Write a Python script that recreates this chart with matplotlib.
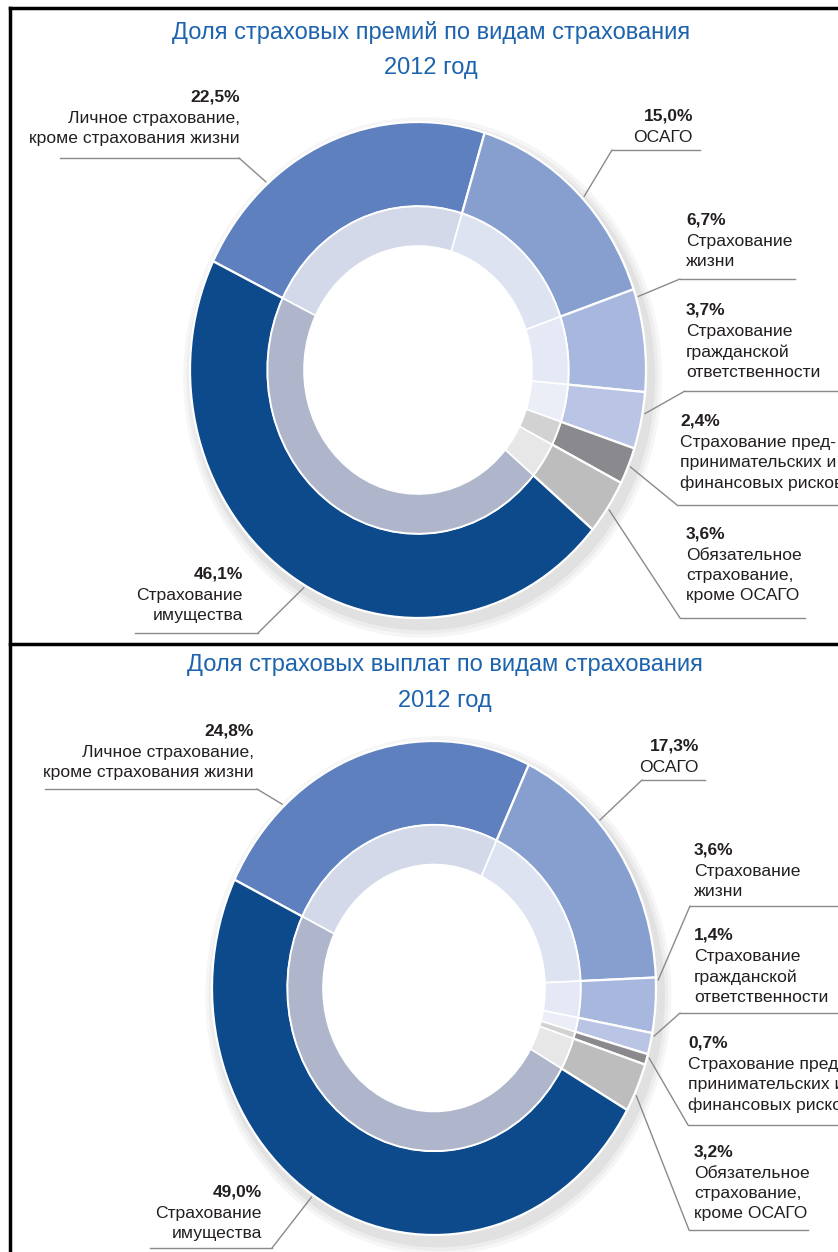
import numpy as np
import matplotlib.pyplot as plt
from matplotlib.lines import Line2D

W, H = 838, 1252

categories = ["Личное страхование,\nкроме страхования жизни",
              "ОСАГО",
              "Страхование\nжизни",
              "Страхование\nгражданской\nответственности",
              "Страхование пред-\nпринимательских и\nфинансовых рисков",
              "Обязательное\nстрахование,\nкроме ОСАГО",
              "Страхование\nимущества"]

premiums_2012 = [22.5, 15.0, 6.7, 3.7, 2.4, 3.6, 46.1]
payments_2012 = [24.8, 17.3, 3.6, 1.4, 0.7, 3.2, 49.0]

titles = [["Доля страховых премий по видам страхования", "2012 год"],
          ["Доля страховых выплат по видам страхования", "2012 год"]]

outer_colors = ['#5e80bf', '#879fcf', '#a8b7dd', '#bac5e5', '#8a8a8e', '#bdbdbd', '#0c4a8b']
inner_colors = ['#d3d9e9', '#dde3f1', '#e4e9f5', '#ebeef7', '#d2d2d2', '#e7e7e7', '#afb6cc']

TXT = '#231f20'
LINE = '#8a8a8a'
TITLE_C = '#1d63ad'


def fx(x):
    return x / W


def fy(y):
    return 1 - y / H


# label layout (image pixels): text x, align, pct y, underline y, underline x0, x1, corner x, pos in wedge
top_layout = [
    (240, 'right', 97, 158, 60, 239, 239, 0.28),
    (693, 'right', 116, 150, 612, 700, 612, 0.54),
    (686, 'left', 220, 279, 680, 795, 680, 0.08),
    (686, 'left', 310, 391, 685, 838, 685, 0.37),
    (680, 'left', 421, 505, 677, 838, 677, 0.5),
    (686, 'left', 534, 618, 680, 805, 680, 0.53),
    (243, 'right', 574, 633, 135, 258, 258, 0.48),
]
bottom_layout = [
    (254, 'right', 731, 789, 45, 257, 257, 0.24),
    (699, 'right', 746, 780, 642, 705, 642, 0.36),
    (694, 'left', 850, 906, 690, 838, 690, 0.05),
    (694, 'left', 935, 1013, 680, 838, 680, 0.12),
    (688, 'left', 1043, 1125, 688, 838, 688, 0.3),
    (694, 'left', 1152, 1230, 689, 808, 689, 0.65),
    (262, 'right', 1192, 1248, 150, 272, 272, 0.53),
]


def draw_panel(fig, values, title, title_x, title_y, cx, cy, rx, ry, layout):
    lim = 1.1
    ax = fig.add_axes([fx(cx - lim * rx), fy(cy + lim * ry), 2 * lim * rx / W, 2 * lim * ry / H])
    # soft shadow round the ring
    for r, a in [(1.05, 0.05), (1.035, 0.06), (1.02, 0.08)]:
        ax.pie([1], radius=r, center=(0.02, -0.03), colors=['#606060'],
               wedgeprops=dict(alpha=a, linewidth=0, width=r - 0.8))
    wedges, _ = ax.pie(values, radius=1.0, startangle=154, counterclock=False,
                       colors=outer_colors,
                       wedgeprops=dict(width=0.34, edgecolor='white', linewidth=1.6))
    ax.pie(values, radius=0.66, startangle=154, counterclock=False,
           colors=inner_colors,
           wedgeprops=dict(width=0.16, edgecolor='white', linewidth=1.2))
    ax.set_aspect('auto')
    ax.set_xlim(-lim, lim)
    ax.set_ylim(-lim, lim)
    ax.axis('off')

    for i, line in enumerate(title):
        fig.text(fx(title_x), fy(title_y + 36 * i), line, ha='center', va='center',
                 color=TITLE_C, fontsize=17, family='Liberation Sans')

    for w, v, name, lay in zip(wedges, values, categories, layout):
        tx, ha, py, uy, ux0, ux1, cxp, frac = lay
        fig.text(fx(tx), fy(py), f"{v:.1f}%".replace('.', ','), ha=ha, va='center',
                 fontsize=12.5, fontweight='bold', color=TXT, family='Liberation Sans')
        fig.text(fx(tx), fy(py + 14), name, ha=ha, va='top', multialignment=ha,
                 fontsize=12.6, color=TXT, family='Liberation Sans', linespacing=1.42)
        fig.add_artist(Line2D([fx(ux0), fx(ux1)], [fy(uy), fy(uy)], transform=fig.transFigure,
                              color=LINE, lw=1.0))
        ang = np.deg2rad(w.theta2 - frac * (w.theta2 - w.theta1))
        ax.annotate('', xy=(1.01 * np.cos(ang), 1.01 * np.sin(ang)), xycoords='data',
                    xytext=(fx(cxp), fy(uy)), textcoords='figure fraction',
                    arrowprops=dict(arrowstyle='-', color=LINE, lw=1.0, shrinkA=0, shrinkB=0))
    return ax


fig = plt.figure(figsize=(W / 100, H / 100), dpi=100)

draw_panel(fig, premiums_2012, titles[0], 431, 32, 418, 370, 228, 248, top_layout)
draw_panel(fig, payments_2012, titles[1], 445, 665, 434, 988, 222, 247, bottom_layout)

# frame lines
for xs, ys in [([10, 838], [8, 8]), ([10, 838], [644, 644]), ([10, 10], [8, 1252])]:
    fig.add_artist(Line2D([fx(x) for x in xs], [fy(y) for y in ys], transform=fig.transFigure,
                          color='black', lw=2.5))

fig.savefig('out.png', dpi=100)
